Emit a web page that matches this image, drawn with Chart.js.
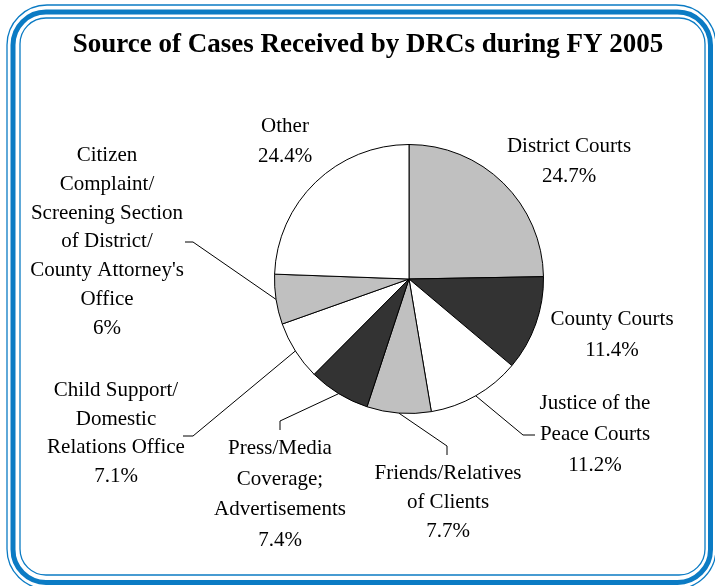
<!DOCTYPE html>
<html>
<head>
<meta charset="utf-8">
<script src="https://cdn.jsdelivr.net/npm/chart.js@4/dist/chart.umd.min.js"></script>
<style>
  html, body { margin: 0; padding: 0; background: #fff; }
  #wrap { position: relative; width: 715px; height: 586px; }
</style>
</head>
<body>
<div id="wrap"><canvas id="srcChart"></canvas></div>
<script>
// data (clockwise from 12 o'clock)
var categories = ['District Courts', 'County Courts', 'Justice of the Peace Courts', 'Friends/Relatives of Clients',
    'Press/Media Coverage; Advertisements', 'Child Support/Domestic Relations Office',
    "Citizen Complaint/Screening Section of District/County Attorney's Office", 'Other'];
var shares = [24.7, 11.4, 11.2, 7.7, 7.4, 7.1, 6, 24.4];
var sliceColors = ['#c0c0c0', '#333333', '#ffffff', '#c0c0c0', '#333333', '#ffffff', '#c0c0c0', '#ffffff'];
var chartTitle = 'Source of Cases Received by DRCs during FY 2005';

// how each label is broken and placed, relative to the pie centre
var labelLines = [
    ['District Courts'], ['County Courts'], ['Justice of the', 'Peace Courts'], ['Friends/Relatives', 'of Clients'],
    ['Press/Media', 'Coverage;', 'Advertisements'], ['Child Support/', 'Domestic', 'Relations Office'],
    ['Citizen', 'Complaint/', 'Screening Section', 'of District/', "County Attorney's", 'Office'], ['Other']
];
var labelPos = [
    { dx: 160, dy: -127, lh: 30 },
    { dx: 203, dy: 46, lh: 31 },
    { dx: 186, dy: 130, lh: 31 },
    { dx: 39, dy: 200, lh: 29 },
    { dx: -129, dy: 175, lh: 30.7 },
    { dx: -293, dy: 117, lh: 28.5 },
    { dx: -302, dy: -118, lh: 28.8 },
    { dx: -124, dy: -147, lh: 30 }
];
// leader line elbows, relative to the pie centre (null = no leader)
var leaders = [
    null, null,
    [[114, 156], [126, 156]],
    [[38, 167], [38, 176]],
    [[-129, 142], [-129, 151]],
    [[-216, 157], [-226, 157]],
    [[-216, -37], [-224, -37]],
    null
];

var sketch = {
    id: 'sketch',
    beforeDraw: function (chart) {
        var c = chart.ctx;
        c.save();
        c.strokeStyle = '#0b7bc4';
        c.lineWidth = 1.3;
        c.beginPath(); c.roundRect(7, 5, 709, 584, 40); c.stroke();
        c.lineWidth = 5;
        c.beginPath(); c.roundRect(13, 12, 697.5, 570.5, 33); c.stroke();
        c.lineWidth = 1.3;
        c.beginPath(); c.roundRect(20, 18, 685, 557, 26); c.stroke();
        c.restore();
    },
    afterDatasetsDraw: function (chart) {
        var c = chart.ctx;
        var arcs = chart.getDatasetMeta(0).data;
        c.save();
        c.fillStyle = '#000';
        c.textAlign = 'center';
        c.textBaseline = 'alphabetic';
        c.font = 'bold 27px "Liberation Serif"';
        c.fillText(chartTitle, 368, 52);

        c.strokeStyle = '#000';
        c.lineWidth = 1;
        c.font = '21px "Liberation Serif"';
        arcs.forEach(function (arc, i) {
            var cx = arc.x, cy = arc.y;
            if (leaders[i]) {
                var mid = (arc.startAngle + arc.endAngle) / 2;
                c.beginPath();
                c.moveTo(cx + arc.outerRadius * Math.cos(mid), cy + arc.outerRadius * Math.sin(mid));
                leaders[i].forEach(function (p) { c.lineTo(cx + p[0], cy + p[1]); });
                c.stroke();
            }
            var lines = labelLines[i].concat([shares[i] + '%']);
            var pos = labelPos[i];
            lines.forEach(function (txt, k) {
                c.fillText(txt, cx + pos.dx, cy + pos.dy + k * pos.lh);
            });
        });
        c.restore();
    }
};

new Chart(document.getElementById('srcChart'), {
    type: 'pie',
    data: {
        labels: categories,
        datasets: [{
            data: shares,
            backgroundColor: sliceColors,
            borderColor: '#000',
            borderWidth: 1
        }]
    },
    options: {
        responsive: true,
        maintainAspectRatio: false,
        animation: false,
        layout: { padding: { left: 273, right: 170, top: 144, bottom: 172 } },
        plugins: { legend: { display: false }, tooltip: { enabled: false }, title: { display: false } }
    },
    plugins: [sketch]
});
</script>
</body>
</html>
